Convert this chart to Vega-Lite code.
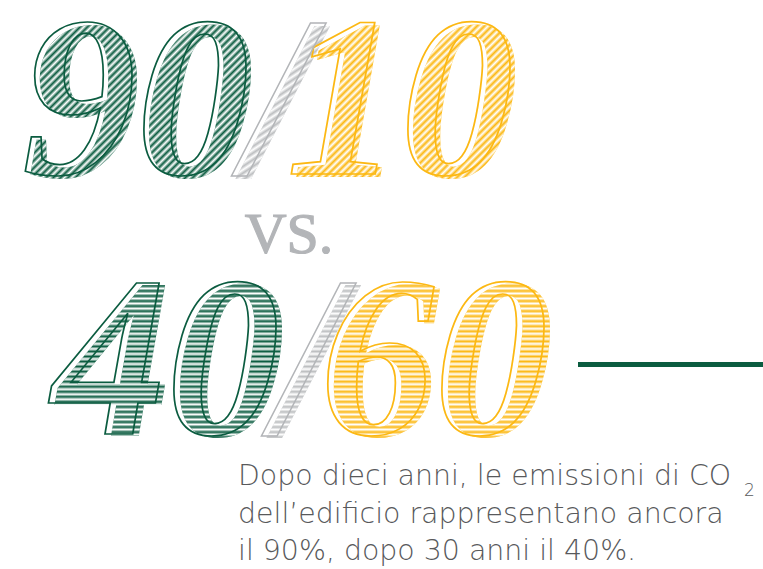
{
  "$schema": "https://vega.github.io/schema/vega-lite/v6.json",
  "width": 763,
  "height": 569,
  "padding": 0,
  "autosize": {"type": "none"},
  "background": "white",
  "config": {"view": {"stroke": null}},
  "datasets": {
    "numeri": [
      {"periodo": "dopo 10 anni", "parte": "edificio", "valore": "90"},
      {"periodo": "dopo 10 anni", "parte": "barra", "valore": "/"},
      {"periodo": "dopo 10 anni", "parte": "resto", "valore": "10"},
      {"periodo": "dopo 30 anni", "parte": "edificio", "valore": "40"},
      {"periodo": "dopo 30 anni", "parte": "barra", "valore": "/"},
      {"periodo": "dopo 30 anni", "parte": "resto", "valore": "60"}
    ],
    "confronto": [{"testo": "VS."}],
    "didascalia": [
      {"riga": "1", "testo": "Dopo dieci anni, le emissioni di CO"},
      {"riga": "2", "testo": "dell’edificio rappresentano ancora"},
      {"riga": "3", "testo": "il 90%, dopo 30 anni il 40%."}
    ],
    "pedice": [{"testo": "2"}],
    "linea": [{"da": "inizio", "a": "fine"}]
  },
  "layer": [
    {
      "data": {"name": "numeri"},
      "transform": [{"filter": "datum.periodo == 'dopo 10 anni'"}],
      "encoding": {
        "x": {"field": "parte", "type": "nominal", "axis": null,
              "scale": {"type": "point", "domain": ["edificio", "barra", "resto"], "range": [141, 405], "padding": 0}},
        "y": {"field": "periodo", "type": "nominal", "axis": null,
              "scale": {"type": "point", "domain": ["dopo 10 anni"], "range": [177, 177], "padding": 0}},
        "text": {"field": "valore"}
      },
      "layer": [
        {
          "transform": [{"filter": "datum.parte != 'barra'"}],
          "mark": {"type": "text", "font": "Liberation Serif", "fontWeight": "bold", "fontStyle": "italic", "fontSize": 228, "align": "center", "baseline": "alphabetic"},
          "encoding": {
            "color": {"field": "parte", "type": "nominal", "legend": null,
                      "scale": {"domain": ["edificio", "barra", "resto"], "range": ["#0b5c40", "#bcbec0", "#fcb813"]}}
          }
        },
        {
          "transform": [{"filter": "datum.parte == 'barra'"}],
          "mark": {"type": "text", "font": "Liberation Serif", "fontWeight": "bold", "fontStyle": "italic", "fontSize": 228, "align": "center", "baseline": "alphabetic", "color": "#bcbec0", "dx": 8}
        },
        {
          "transform": [{"filter": "datum.parte != 'barra'"}],
          "mark": {"type": "text", "font": "Liberation Serif", "fontWeight": "bold", "fontStyle": "italic", "fontSize": 228, "align": "center", "baseline": "alphabetic",
            "fill": {"gradient": "linear", "x1": 0, "y1": 0, "x2": 0.9, "y2": 1, "stops": [
              {"offset": 0, "color": "#ffffff"}, {"offset": 0.008, "color": "rgba(255,255,255,0)"},
              {"offset": 0.016, "color": "#ffffff"}, {"offset": 0.024, "color": "rgba(255,255,255,0)"},
              {"offset": 0.032, "color": "#ffffff"}, {"offset": 0.04, "color": "rgba(255,255,255,0)"},
              {"offset": 0.048, "color": "#ffffff"}, {"offset": 0.056, "color": "rgba(255,255,255,0)"},
              {"offset": 0.064, "color": "#ffffff"}, {"offset": 0.072, "color": "rgba(255,255,255,0)"},
              {"offset": 0.08, "color": "#ffffff"}, {"offset": 0.088, "color": "rgba(255,255,255,0)"},
              {"offset": 0.096, "color": "#ffffff"}, {"offset": 0.104, "color": "rgba(255,255,255,0)"},
              {"offset": 0.112, "color": "#ffffff"}, {"offset": 0.12, "color": "rgba(255,255,255,0)"},
              {"offset": 0.128, "color": "#ffffff"}, {"offset": 0.136, "color": "rgba(255,255,255,0)"},
              {"offset": 0.144, "color": "#ffffff"}, {"offset": 0.152, "color": "rgba(255,255,255,0)"},
              {"offset": 0.16, "color": "#ffffff"}, {"offset": 0.168, "color": "rgba(255,255,255,0)"},
              {"offset": 0.176, "color": "#ffffff"}, {"offset": 0.184, "color": "rgba(255,255,255,0)"},
              {"offset": 0.192, "color": "#ffffff"}, {"offset": 0.2, "color": "rgba(255,255,255,0)"},
              {"offset": 0.208, "color": "#ffffff"}, {"offset": 0.216, "color": "rgba(255,255,255,0)"},
              {"offset": 0.224, "color": "#ffffff"}, {"offset": 0.232, "color": "rgba(255,255,255,0)"},
              {"offset": 0.24, "color": "#ffffff"}, {"offset": 0.248, "color": "rgba(255,255,255,0)"},
              {"offset": 0.256, "color": "#ffffff"}, {"offset": 0.264, "color": "rgba(255,255,255,0)"},
              {"offset": 0.272, "color": "#ffffff"}, {"offset": 0.28, "color": "rgba(255,255,255,0)"},
              {"offset": 0.288, "color": "#ffffff"}, {"offset": 0.296, "color": "rgba(255,255,255,0)"},
              {"offset": 0.304, "color": "#ffffff"}, {"offset": 0.312, "color": "rgba(255,255,255,0)"},
              {"offset": 0.32, "color": "#ffffff"}, {"offset": 0.328, "color": "rgba(255,255,255,0)"},
              {"offset": 0.336, "color": "#ffffff"}, {"offset": 0.344, "color": "rgba(255,255,255,0)"},
              {"offset": 0.352, "color": "#ffffff"}, {"offset": 0.36, "color": "rgba(255,255,255,0)"},
              {"offset": 0.368, "color": "#ffffff"}, {"offset": 0.376, "color": "rgba(255,255,255,0)"},
              {"offset": 0.384, "color": "#ffffff"}, {"offset": 0.392, "color": "rgba(255,255,255,0)"},
              {"offset": 0.4, "color": "#ffffff"}, {"offset": 0.408, "color": "rgba(255,255,255,0)"},
              {"offset": 0.416, "color": "#ffffff"}, {"offset": 0.424, "color": "rgba(255,255,255,0)"},
              {"offset": 0.432, "color": "#ffffff"}, {"offset": 0.44, "color": "rgba(255,255,255,0)"},
              {"offset": 0.448, "color": "#ffffff"}, {"offset": 0.456, "color": "rgba(255,255,255,0)"},
              {"offset": 0.464, "color": "#ffffff"}, {"offset": 0.472, "color": "rgba(255,255,255,0)"},
              {"offset": 0.48, "color": "#ffffff"}, {"offset": 0.488, "color": "rgba(255,255,255,0)"},
              {"offset": 0.496, "color": "#ffffff"}, {"offset": 0.504, "color": "rgba(255,255,255,0)"},
              {"offset": 0.512, "color": "#ffffff"}, {"offset": 0.52, "color": "rgba(255,255,255,0)"},
              {"offset": 0.528, "color": "#ffffff"}, {"offset": 0.536, "color": "rgba(255,255,255,0)"},
              {"offset": 0.544, "color": "#ffffff"}, {"offset": 0.552, "color": "rgba(255,255,255,0)"},
              {"offset": 0.56, "color": "#ffffff"}, {"offset": 0.568, "color": "rgba(255,255,255,0)"},
              {"offset": 0.576, "color": "#ffffff"}, {"offset": 0.584, "color": "rgba(255,255,255,0)"},
              {"offset": 0.592, "color": "#ffffff"}, {"offset": 0.6, "color": "rgba(255,255,255,0)"},
              {"offset": 0.608, "color": "#ffffff"}, {"offset": 0.616, "color": "rgba(255,255,255,0)"},
              {"offset": 0.624, "color": "#ffffff"}, {"offset": 0.632, "color": "rgba(255,255,255,0)"},
              {"offset": 0.64, "color": "#ffffff"}, {"offset": 0.648, "color": "rgba(255,255,255,0)"},
              {"offset": 0.656, "color": "#ffffff"}, {"offset": 0.664, "color": "rgba(255,255,255,0)"},
              {"offset": 0.672, "color": "#ffffff"}, {"offset": 0.68, "color": "rgba(255,255,255,0)"},
              {"offset": 0.688, "color": "#ffffff"}, {"offset": 0.696, "color": "rgba(255,255,255,0)"},
              {"offset": 0.704, "color": "#ffffff"}, {"offset": 0.712, "color": "rgba(255,255,255,0)"},
              {"offset": 0.72, "color": "#ffffff"}, {"offset": 0.728, "color": "rgba(255,255,255,0)"},
              {"offset": 0.736, "color": "#ffffff"}, {"offset": 0.744, "color": "rgba(255,255,255,0)"},
              {"offset": 0.752, "color": "#ffffff"}, {"offset": 0.76, "color": "rgba(255,255,255,0)"},
              {"offset": 0.768, "color": "#ffffff"}, {"offset": 0.776, "color": "rgba(255,255,255,0)"},
              {"offset": 0.784, "color": "#ffffff"}, {"offset": 0.792, "color": "rgba(255,255,255,0)"},
              {"offset": 0.8, "color": "#ffffff"}, {"offset": 0.808, "color": "rgba(255,255,255,0)"},
              {"offset": 0.816, "color": "#ffffff"}, {"offset": 0.824, "color": "rgba(255,255,255,0)"},
              {"offset": 0.832, "color": "#ffffff"}, {"offset": 0.84, "color": "rgba(255,255,255,0)"},
              {"offset": 0.848, "color": "#ffffff"}, {"offset": 0.856, "color": "rgba(255,255,255,0)"},
              {"offset": 0.864, "color": "#ffffff"}, {"offset": 0.872, "color": "rgba(255,255,255,0)"},
              {"offset": 0.88, "color": "#ffffff"}, {"offset": 0.888, "color": "rgba(255,255,255,0)"},
              {"offset": 0.896, "color": "#ffffff"}, {"offset": 0.904, "color": "rgba(255,255,255,0)"},
              {"offset": 0.912, "color": "#ffffff"}, {"offset": 0.92, "color": "rgba(255,255,255,0)"},
              {"offset": 0.928, "color": "#ffffff"}, {"offset": 0.936, "color": "rgba(255,255,255,0)"},
              {"offset": 0.944, "color": "#ffffff"}, {"offset": 0.952, "color": "rgba(255,255,255,0)"},
              {"offset": 0.96, "color": "#ffffff"}, {"offset": 0.968, "color": "rgba(255,255,255,0)"},
              {"offset": 0.976, "color": "#ffffff"}, {"offset": 0.984, "color": "rgba(255,255,255,0)"},
              {"offset": 0.992, "color": "#ffffff"}, {"offset": 1, "color": "rgba(255,255,255,0)"}
            ]}}
        },
        {
          "transform": [{"filter": "datum.parte == 'barra'"}],
          "mark": {"type": "text", "font": "Liberation Serif", "fontWeight": "bold", "fontStyle": "italic", "fontSize": 228, "align": "center", "baseline": "alphabetic", "dx": 8,
            "fill": {"gradient": "linear", "x1": 0, "y1": 0, "x2": 0.25, "y2": 1, "stops": [
              {"offset": 0, "color": "#ffffff"}, {"offset": 0.0125, "color": "rgba(255,255,255,0)"},
              {"offset": 0.025, "color": "#ffffff"}, {"offset": 0.0375, "color": "rgba(255,255,255,0)"},
              {"offset": 0.05, "color": "#ffffff"}, {"offset": 0.0625, "color": "rgba(255,255,255,0)"},
              {"offset": 0.075, "color": "#ffffff"}, {"offset": 0.0875, "color": "rgba(255,255,255,0)"},
              {"offset": 0.1, "color": "#ffffff"}, {"offset": 0.1125, "color": "rgba(255,255,255,0)"},
              {"offset": 0.125, "color": "#ffffff"}, {"offset": 0.1375, "color": "rgba(255,255,255,0)"},
              {"offset": 0.15, "color": "#ffffff"}, {"offset": 0.1625, "color": "rgba(255,255,255,0)"},
              {"offset": 0.175, "color": "#ffffff"}, {"offset": 0.1875, "color": "rgba(255,255,255,0)"},
              {"offset": 0.2, "color": "#ffffff"}, {"offset": 0.2125, "color": "rgba(255,255,255,0)"},
              {"offset": 0.225, "color": "#ffffff"}, {"offset": 0.2375, "color": "rgba(255,255,255,0)"},
              {"offset": 0.25, "color": "#ffffff"}, {"offset": 0.2625, "color": "rgba(255,255,255,0)"},
              {"offset": 0.275, "color": "#ffffff"}, {"offset": 0.2875, "color": "rgba(255,255,255,0)"},
              {"offset": 0.3, "color": "#ffffff"}, {"offset": 0.3125, "color": "rgba(255,255,255,0)"},
              {"offset": 0.325, "color": "#ffffff"}, {"offset": 0.3375, "color": "rgba(255,255,255,0)"},
              {"offset": 0.35, "color": "#ffffff"}, {"offset": 0.3625, "color": "rgba(255,255,255,0)"},
              {"offset": 0.375, "color": "#ffffff"}, {"offset": 0.3875, "color": "rgba(255,255,255,0)"},
              {"offset": 0.4, "color": "#ffffff"}, {"offset": 0.4125, "color": "rgba(255,255,255,0)"},
              {"offset": 0.425, "color": "#ffffff"}, {"offset": 0.4375, "color": "rgba(255,255,255,0)"},
              {"offset": 0.45, "color": "#ffffff"}, {"offset": 0.4625, "color": "rgba(255,255,255,0)"},
              {"offset": 0.475, "color": "#ffffff"}, {"offset": 0.4875, "color": "rgba(255,255,255,0)"},
              {"offset": 0.5, "color": "#ffffff"}, {"offset": 0.5125, "color": "rgba(255,255,255,0)"},
              {"offset": 0.525, "color": "#ffffff"}, {"offset": 0.5375, "color": "rgba(255,255,255,0)"},
              {"offset": 0.55, "color": "#ffffff"}, {"offset": 0.5625, "color": "rgba(255,255,255,0)"},
              {"offset": 0.575, "color": "#ffffff"}, {"offset": 0.5875, "color": "rgba(255,255,255,0)"},
              {"offset": 0.6, "color": "#ffffff"}, {"offset": 0.6125, "color": "rgba(255,255,255,0)"},
              {"offset": 0.625, "color": "#ffffff"}, {"offset": 0.6375, "color": "rgba(255,255,255,0)"},
              {"offset": 0.65, "color": "#ffffff"}, {"offset": 0.6625, "color": "rgba(255,255,255,0)"},
              {"offset": 0.675, "color": "#ffffff"}, {"offset": 0.6875, "color": "rgba(255,255,255,0)"},
              {"offset": 0.7, "color": "#ffffff"}, {"offset": 0.7125, "color": "rgba(255,255,255,0)"},
              {"offset": 0.725, "color": "#ffffff"}, {"offset": 0.7375, "color": "rgba(255,255,255,0)"},
              {"offset": 0.75, "color": "#ffffff"}, {"offset": 0.7625, "color": "rgba(255,255,255,0)"},
              {"offset": 0.775, "color": "#ffffff"}, {"offset": 0.7875, "color": "rgba(255,255,255,0)"},
              {"offset": 0.8, "color": "#ffffff"}, {"offset": 0.8125, "color": "rgba(255,255,255,0)"},
              {"offset": 0.825, "color": "#ffffff"}, {"offset": 0.8375, "color": "rgba(255,255,255,0)"},
              {"offset": 0.85, "color": "#ffffff"}, {"offset": 0.8625, "color": "rgba(255,255,255,0)"},
              {"offset": 0.875, "color": "#ffffff"}, {"offset": 0.8875, "color": "rgba(255,255,255,0)"},
              {"offset": 0.9, "color": "#ffffff"}, {"offset": 0.9125, "color": "rgba(255,255,255,0)"},
              {"offset": 0.925, "color": "#ffffff"}, {"offset": 0.9375, "color": "rgba(255,255,255,0)"},
              {"offset": 0.95, "color": "#ffffff"}, {"offset": 0.9625, "color": "rgba(255,255,255,0)"},
              {"offset": 0.975, "color": "#ffffff"}, {"offset": 0.9875, "color": "rgba(255,255,255,0)"},
              {"offset": 1, "color": "#ffffff"}
            ]}}
        },
        {
          "transform": [{"filter": "datum.parte != 'barra'"}],
          "mark": {"type": "text", "font": "Liberation Serif", "fontWeight": "bold", "fontStyle": "italic", "fontSize": 228, "align": "center", "baseline": "alphabetic", "fillOpacity": 0, "strokeWidth": 1.7, "dx": -5, "dy": -3},
          "encoding": {
            "stroke": {"field": "parte", "type": "nominal", "legend": null,
                       "scale": {"domain": ["edificio", "barra", "resto"], "range": ["#0b5c40", "#bcbec0", "#fcb813"]}}
          }
        },
        {
          "transform": [{"filter": "datum.parte == 'barra'"}],
          "mark": {"type": "text", "font": "Liberation Serif", "fontWeight": "bold", "fontStyle": "italic", "fontSize": 228, "align": "center", "baseline": "alphabetic", "fillOpacity": 0, "stroke": "#b3b5b8", "strokeWidth": 1.5, "dx": 4, "dy": -3}
        }
      ]
    },
    {
      "data": {"name": "numeri"},
      "transform": [{"filter": "datum.periodo == 'dopo 30 anni'"}],
      "encoding": {
        "x": {"field": "parte", "type": "nominal", "axis": null,
              "scale": {"type": "point", "domain": ["edificio", "barra", "resto"], "range": [172, 440], "padding": 0}},
        "y": {"field": "periodo", "type": "nominal", "axis": null,
              "scale": {"type": "point", "domain": ["dopo 30 anni"], "range": [436, 436], "padding": 0}},
        "text": {"field": "valore"}
      },
      "layer": [
        {
          "transform": [{"filter": "datum.parte != 'barra'"}],
          "mark": {"type": "text", "font": "Liberation Serif", "fontWeight": "bold", "fontStyle": "italic", "fontSize": 228, "align": "center", "baseline": "alphabetic"},
          "encoding": {
            "color": {"field": "parte", "type": "nominal", "legend": null,
                      "scale": {"domain": ["edificio", "barra", "resto"], "range": ["#0b5c40", "#bcbec0", "#fcb813"]}}
          }
        },
        {
          "transform": [{"filter": "datum.parte == 'barra'"}],
          "mark": {"type": "text", "font": "Liberation Serif", "fontWeight": "bold", "fontStyle": "italic", "fontSize": 228, "align": "center", "baseline": "alphabetic", "color": "#bcbec0", "dx": 6}
        },
        {
          "transform": [{"filter": "datum.parte != 'barra'"}],
          "mark": {"type": "text", "font": "Liberation Serif", "fontWeight": "bold", "fontStyle": "italic", "fontSize": 228, "align": "center", "baseline": "alphabetic",
            "fill": {"gradient": "linear", "x1": 0, "y1": 0, "x2": 0, "y2": 1, "stops": [
              {"offset": 0, "color": "#ffffff"}, {"offset": 0.01, "color": "rgba(255,255,255,0)"},
              {"offset": 0.02, "color": "#ffffff"}, {"offset": 0.03, "color": "rgba(255,255,255,0)"},
              {"offset": 0.04, "color": "#ffffff"}, {"offset": 0.05, "color": "rgba(255,255,255,0)"},
              {"offset": 0.06, "color": "#ffffff"}, {"offset": 0.07, "color": "rgba(255,255,255,0)"},
              {"offset": 0.08, "color": "#ffffff"}, {"offset": 0.09, "color": "rgba(255,255,255,0)"},
              {"offset": 0.1, "color": "#ffffff"}, {"offset": 0.11, "color": "rgba(255,255,255,0)"},
              {"offset": 0.12, "color": "#ffffff"}, {"offset": 0.13, "color": "rgba(255,255,255,0)"},
              {"offset": 0.14, "color": "#ffffff"}, {"offset": 0.15, "color": "rgba(255,255,255,0)"},
              {"offset": 0.16, "color": "#ffffff"}, {"offset": 0.17, "color": "rgba(255,255,255,0)"},
              {"offset": 0.18, "color": "#ffffff"}, {"offset": 0.19, "color": "rgba(255,255,255,0)"},
              {"offset": 0.2, "color": "#ffffff"}, {"offset": 0.21, "color": "rgba(255,255,255,0)"},
              {"offset": 0.22, "color": "#ffffff"}, {"offset": 0.23, "color": "rgba(255,255,255,0)"},
              {"offset": 0.24, "color": "#ffffff"}, {"offset": 0.25, "color": "rgba(255,255,255,0)"},
              {"offset": 0.26, "color": "#ffffff"}, {"offset": 0.27, "color": "rgba(255,255,255,0)"},
              {"offset": 0.28, "color": "#ffffff"}, {"offset": 0.29, "color": "rgba(255,255,255,0)"},
              {"offset": 0.3, "color": "#ffffff"}, {"offset": 0.31, "color": "rgba(255,255,255,0)"},
              {"offset": 0.32, "color": "#ffffff"}, {"offset": 0.33, "color": "rgba(255,255,255,0)"},
              {"offset": 0.34, "color": "#ffffff"}, {"offset": 0.35, "color": "rgba(255,255,255,0)"},
              {"offset": 0.36, "color": "#ffffff"}, {"offset": 0.37, "color": "rgba(255,255,255,0)"},
              {"offset": 0.38, "color": "#ffffff"}, {"offset": 0.39, "color": "rgba(255,255,255,0)"},
              {"offset": 0.4, "color": "#ffffff"}, {"offset": 0.41, "color": "rgba(255,255,255,0)"},
              {"offset": 0.42, "color": "#ffffff"}, {"offset": 0.43, "color": "rgba(255,255,255,0)"},
              {"offset": 0.44, "color": "#ffffff"}, {"offset": 0.45, "color": "rgba(255,255,255,0)"},
              {"offset": 0.46, "color": "#ffffff"}, {"offset": 0.47, "color": "rgba(255,255,255,0)"},
              {"offset": 0.48, "color": "#ffffff"}, {"offset": 0.49, "color": "rgba(255,255,255,0)"},
              {"offset": 0.5, "color": "#ffffff"}, {"offset": 0.51, "color": "rgba(255,255,255,0)"},
              {"offset": 0.52, "color": "#ffffff"}, {"offset": 0.53, "color": "rgba(255,255,255,0)"},
              {"offset": 0.54, "color": "#ffffff"}, {"offset": 0.55, "color": "rgba(255,255,255,0)"},
              {"offset": 0.56, "color": "#ffffff"}, {"offset": 0.57, "color": "rgba(255,255,255,0)"},
              {"offset": 0.58, "color": "#ffffff"}, {"offset": 0.59, "color": "rgba(255,255,255,0)"},
              {"offset": 0.6, "color": "#ffffff"}, {"offset": 0.61, "color": "rgba(255,255,255,0)"},
              {"offset": 0.62, "color": "#ffffff"}, {"offset": 0.63, "color": "rgba(255,255,255,0)"},
              {"offset": 0.64, "color": "#ffffff"}, {"offset": 0.65, "color": "rgba(255,255,255,0)"},
              {"offset": 0.66, "color": "#ffffff"}, {"offset": 0.67, "color": "rgba(255,255,255,0)"},
              {"offset": 0.68, "color": "#ffffff"}, {"offset": 0.69, "color": "rgba(255,255,255,0)"},
              {"offset": 0.7, "color": "#ffffff"}, {"offset": 0.71, "color": "rgba(255,255,255,0)"},
              {"offset": 0.72, "color": "#ffffff"}, {"offset": 0.73, "color": "rgba(255,255,255,0)"},
              {"offset": 0.74, "color": "#ffffff"}, {"offset": 0.75, "color": "rgba(255,255,255,0)"},
              {"offset": 0.76, "color": "#ffffff"}, {"offset": 0.77, "color": "rgba(255,255,255,0)"},
              {"offset": 0.78, "color": "#ffffff"}, {"offset": 0.79, "color": "rgba(255,255,255,0)"},
              {"offset": 0.8, "color": "#ffffff"}, {"offset": 0.81, "color": "rgba(255,255,255,0)"},
              {"offset": 0.82, "color": "#ffffff"}, {"offset": 0.83, "color": "rgba(255,255,255,0)"},
              {"offset": 0.84, "color": "#ffffff"}, {"offset": 0.85, "color": "rgba(255,255,255,0)"},
              {"offset": 0.86, "color": "#ffffff"}, {"offset": 0.87, "color": "rgba(255,255,255,0)"},
              {"offset": 0.88, "color": "#ffffff"}, {"offset": 0.89, "color": "rgba(255,255,255,0)"},
              {"offset": 0.9, "color": "#ffffff"}, {"offset": 0.91, "color": "rgba(255,255,255,0)"},
              {"offset": 0.92, "color": "#ffffff"}, {"offset": 0.93, "color": "rgba(255,255,255,0)"},
              {"offset": 0.94, "color": "#ffffff"}, {"offset": 0.95, "color": "rgba(255,255,255,0)"},
              {"offset": 0.96, "color": "#ffffff"}, {"offset": 0.97, "color": "rgba(255,255,255,0)"},
              {"offset": 0.98, "color": "#ffffff"}, {"offset": 0.99, "color": "rgba(255,255,255,0)"},
              {"offset": 1, "color": "#ffffff"}
            ]}}
        },
        {
          "transform": [{"filter": "datum.parte == 'barra'"}],
          "mark": {"type": "text", "font": "Liberation Serif", "fontWeight": "bold", "fontStyle": "italic", "fontSize": 228, "align": "center", "baseline": "alphabetic", "dx": 6,
            "fill": {"gradient": "linear", "x1": 0, "y1": 0, "x2": 0, "y2": 1, "stops": [
              {"offset": 0, "color": "#ffffff"}, {"offset": 0.01, "color": "rgba(255,255,255,0)"},
              {"offset": 0.02, "color": "#ffffff"}, {"offset": 0.03, "color": "rgba(255,255,255,0)"},
              {"offset": 0.04, "color": "#ffffff"}, {"offset": 0.05, "color": "rgba(255,255,255,0)"},
              {"offset": 0.06, "color": "#ffffff"}, {"offset": 0.07, "color": "rgba(255,255,255,0)"},
              {"offset": 0.08, "color": "#ffffff"}, {"offset": 0.09, "color": "rgba(255,255,255,0)"},
              {"offset": 0.1, "color": "#ffffff"}, {"offset": 0.11, "color": "rgba(255,255,255,0)"},
              {"offset": 0.12, "color": "#ffffff"}, {"offset": 0.13, "color": "rgba(255,255,255,0)"},
              {"offset": 0.14, "color": "#ffffff"}, {"offset": 0.15, "color": "rgba(255,255,255,0)"},
              {"offset": 0.16, "color": "#ffffff"}, {"offset": 0.17, "color": "rgba(255,255,255,0)"},
              {"offset": 0.18, "color": "#ffffff"}, {"offset": 0.19, "color": "rgba(255,255,255,0)"},
              {"offset": 0.2, "color": "#ffffff"}, {"offset": 0.21, "color": "rgba(255,255,255,0)"},
              {"offset": 0.22, "color": "#ffffff"}, {"offset": 0.23, "color": "rgba(255,255,255,0)"},
              {"offset": 0.24, "color": "#ffffff"}, {"offset": 0.25, "color": "rgba(255,255,255,0)"},
              {"offset": 0.26, "color": "#ffffff"}, {"offset": 0.27, "color": "rgba(255,255,255,0)"},
              {"offset": 0.28, "color": "#ffffff"}, {"offset": 0.29, "color": "rgba(255,255,255,0)"},
              {"offset": 0.3, "color": "#ffffff"}, {"offset": 0.31, "color": "rgba(255,255,255,0)"},
              {"offset": 0.32, "color": "#ffffff"}, {"offset": 0.33, "color": "rgba(255,255,255,0)"},
              {"offset": 0.34, "color": "#ffffff"}, {"offset": 0.35, "color": "rgba(255,255,255,0)"},
              {"offset": 0.36, "color": "#ffffff"}, {"offset": 0.37, "color": "rgba(255,255,255,0)"},
              {"offset": 0.38, "color": "#ffffff"}, {"offset": 0.39, "color": "rgba(255,255,255,0)"},
              {"offset": 0.4, "color": "#ffffff"}, {"offset": 0.41, "color": "rgba(255,255,255,0)"},
              {"offset": 0.42, "color": "#ffffff"}, {"offset": 0.43, "color": "rgba(255,255,255,0)"},
              {"offset": 0.44, "color": "#ffffff"}, {"offset": 0.45, "color": "rgba(255,255,255,0)"},
              {"offset": 0.46, "color": "#ffffff"}, {"offset": 0.47, "color": "rgba(255,255,255,0)"},
              {"offset": 0.48, "color": "#ffffff"}, {"offset": 0.49, "color": "rgba(255,255,255,0)"},
              {"offset": 0.5, "color": "#ffffff"}, {"offset": 0.51, "color": "rgba(255,255,255,0)"},
              {"offset": 0.52, "color": "#ffffff"}, {"offset": 0.53, "color": "rgba(255,255,255,0)"},
              {"offset": 0.54, "color": "#ffffff"}, {"offset": 0.55, "color": "rgba(255,255,255,0)"},
              {"offset": 0.56, "color": "#ffffff"}, {"offset": 0.57, "color": "rgba(255,255,255,0)"},
              {"offset": 0.58, "color": "#ffffff"}, {"offset": 0.59, "color": "rgba(255,255,255,0)"},
              {"offset": 0.6, "color": "#ffffff"}, {"offset": 0.61, "color": "rgba(255,255,255,0)"},
              {"offset": 0.62, "color": "#ffffff"}, {"offset": 0.63, "color": "rgba(255,255,255,0)"},
              {"offset": 0.64, "color": "#ffffff"}, {"offset": 0.65, "color": "rgba(255,255,255,0)"},
              {"offset": 0.66, "color": "#ffffff"}, {"offset": 0.67, "color": "rgba(255,255,255,0)"},
              {"offset": 0.68, "color": "#ffffff"}, {"offset": 0.69, "color": "rgba(255,255,255,0)"},
              {"offset": 0.7, "color": "#ffffff"}, {"offset": 0.71, "color": "rgba(255,255,255,0)"},
              {"offset": 0.72, "color": "#ffffff"}, {"offset": 0.73, "color": "rgba(255,255,255,0)"},
              {"offset": 0.74, "color": "#ffffff"}, {"offset": 0.75, "color": "rgba(255,255,255,0)"},
              {"offset": 0.76, "color": "#ffffff"}, {"offset": 0.77, "color": "rgba(255,255,255,0)"},
              {"offset": 0.78, "color": "#ffffff"}, {"offset": 0.79, "color": "rgba(255,255,255,0)"},
              {"offset": 0.8, "color": "#ffffff"}, {"offset": 0.81, "color": "rgba(255,255,255,0)"},
              {"offset": 0.82, "color": "#ffffff"}, {"offset": 0.83, "color": "rgba(255,255,255,0)"},
              {"offset": 0.84, "color": "#ffffff"}, {"offset": 0.85, "color": "rgba(255,255,255,0)"},
              {"offset": 0.86, "color": "#ffffff"}, {"offset": 0.87, "color": "rgba(255,255,255,0)"},
              {"offset": 0.88, "color": "#ffffff"}, {"offset": 0.89, "color": "rgba(255,255,255,0)"},
              {"offset": 0.9, "color": "#ffffff"}, {"offset": 0.91, "color": "rgba(255,255,255,0)"},
              {"offset": 0.92, "color": "#ffffff"}, {"offset": 0.93, "color": "rgba(255,255,255,0)"},
              {"offset": 0.94, "color": "#ffffff"}, {"offset": 0.95, "color": "rgba(255,255,255,0)"},
              {"offset": 0.96, "color": "#ffffff"}, {"offset": 0.97, "color": "rgba(255,255,255,0)"},
              {"offset": 0.98, "color": "#ffffff"}, {"offset": 0.99, "color": "rgba(255,255,255,0)"},
              {"offset": 1, "color": "#ffffff"}
            ]}}
        },
        {
          "transform": [{"filter": "datum.parte != 'barra'"}],
          "mark": {"type": "text", "font": "Liberation Serif", "fontWeight": "bold", "fontStyle": "italic", "fontSize": 228, "align": "center", "baseline": "alphabetic", "fillOpacity": 0, "strokeWidth": 1.7, "dx": -6, "dy": -2},
          "encoding": {
            "stroke": {"field": "parte", "type": "nominal", "legend": null,
                       "scale": {"domain": ["edificio", "barra", "resto"], "range": ["#0b5c40", "#bcbec0", "#fcb813"]}}
          }
        },
        {
          "transform": [{"filter": "datum.parte == 'barra'"}],
          "mark": {"type": "text", "font": "Liberation Serif", "fontWeight": "bold", "fontStyle": "italic", "fontSize": 228, "align": "center", "baseline": "alphabetic", "fillOpacity": 0, "stroke": "#b3b5b8", "strokeWidth": 1.5, "dx": 1, "dy": -2}
        }
      ]
    },
    {
      "data": {"name": "confronto"},
      "mark": {"type": "text", "font": "Liberation Serif", "fontWeight": "normal", "fontSize": 58, "letterSpacing": -4, "align": "center", "baseline": "alphabetic", "color": "#b3b5b8", "stroke": "#b3b5b8", "strokeWidth": 1.2},
      "encoding": {
        "x": {"field": "testo", "type": "nominal", "axis": null, "scale": {"type": "point", "domain": ["VS."], "range": [289, 289], "padding": 0}},
        "y": {"field": "testo", "type": "nominal", "axis": null, "scale": {"type": "point", "domain": ["VS."], "range": [253, 253], "padding": 0}},
        "text": {"field": "testo"}
      }
    },
    {
      "data": {"name": "didascalia"},
      "mark": {"type": "text", "font": "DejaVu Sans", "fontWeight": 200, "fontSize": 28.4, "align": "left", "baseline": "alphabetic", "color": "#58595b"},
      "encoding": {
        "x": {"field": "riga", "type": "nominal", "axis": null, "scale": {"type": "point", "domain": ["1", "2", "3"], "range": [238, 238], "padding": 0}},
        "y": {"field": "riga", "type": "nominal", "axis": null, "scale": {"type": "point", "domain": ["1", "2", "3"], "range": [485, 560], "padding": 0}},
        "text": {"field": "testo"}
      }
    },
    {
      "data": {"name": "pedice"},
      "mark": {"type": "text", "font": "DejaVu Sans", "fontWeight": 200, "fontSize": 17, "align": "left", "baseline": "alphabetic", "color": "#58595b"},
      "encoding": {
        "x": {"field": "testo", "type": "nominal", "axis": null, "scale": {"type": "point", "domain": ["2"], "range": [744, 744], "padding": 0}},
        "y": {"field": "testo", "type": "nominal", "axis": null, "scale": {"type": "point", "domain": ["2"], "range": [496, 496], "padding": 0}},
        "text": {"field": "testo"}
      }
    },
    {
      "data": {"name": "linea"},
      "mark": {"type": "rule", "color": "#0b5c40", "strokeWidth": 5},
      "encoding": {
        "x": {"field": "da", "type": "nominal", "axis": null, "scale": {"type": "point", "domain": ["inizio", "fine"], "range": [578, 763], "padding": 0}},
        "x2": {"field": "a"},
        "y": {"field": "da", "type": "nominal", "axis": null, "scale": {"type": "point", "domain": ["inizio", "fine"], "range": [364.5, 364.5], "padding": 0}}
      }
    }
  ],
  "resolve": {"scale": {"x": "independent", "y": "independent"}}
}
